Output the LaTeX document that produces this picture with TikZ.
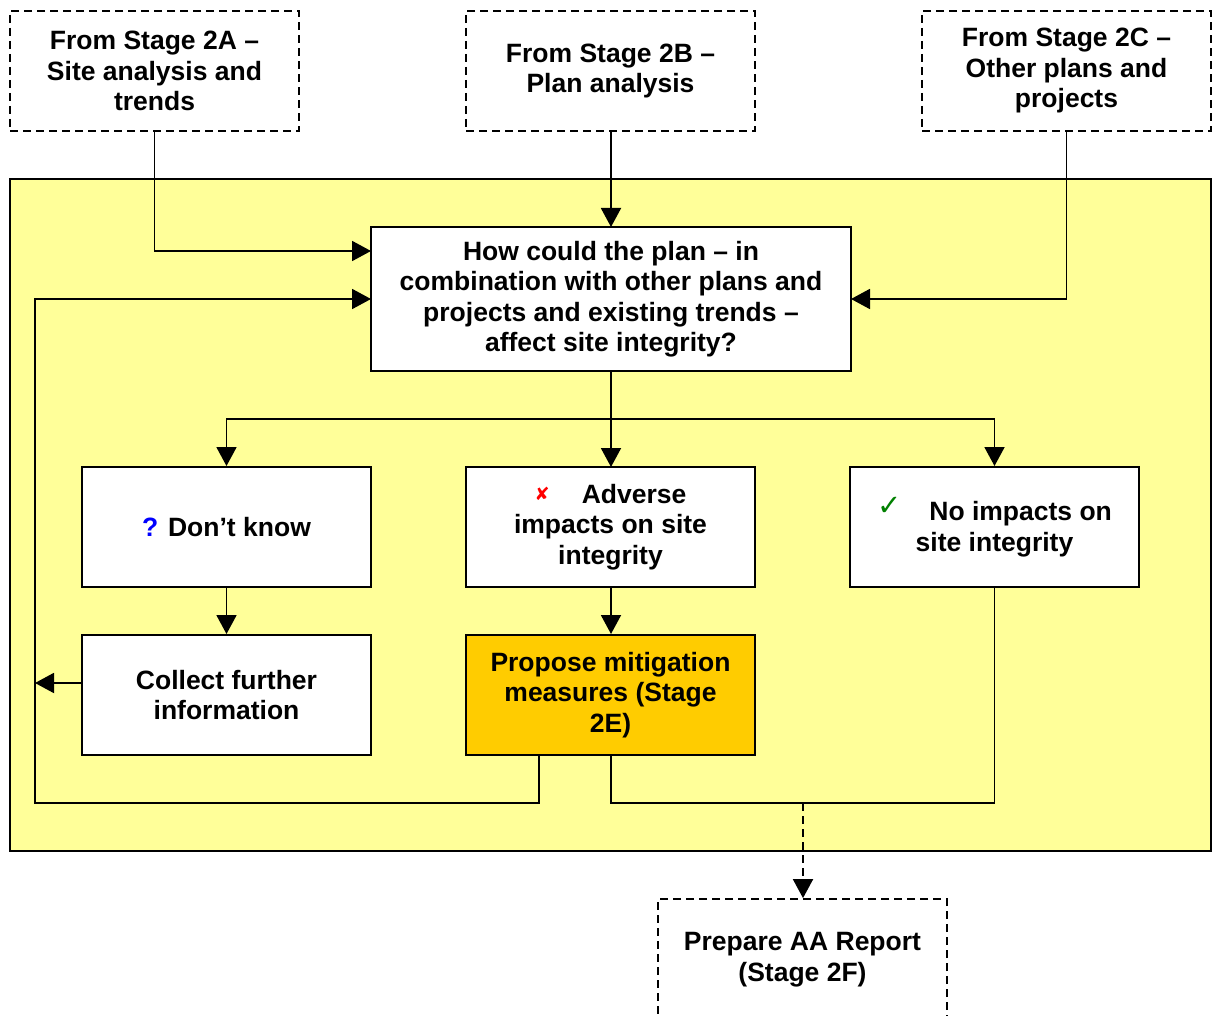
\documentclass[tikz,border=0pt]{standalone}
\usepackage{fontspec}
\setmainfont{Liberation Sans}
\newfontfamily\symfont{DejaVu Sans}
\usetikzlibrary{arrows.meta}

\definecolor{panelyellow}{HTML}{FFFF99}
\definecolor{stageorange}{HTML}{FFCC00}
\definecolor{qblue}{HTML}{0000FF}
\definecolor{okgreen}{HTML}{008000}
\definecolor{xred}{HTML}{FF0000}

\begin{document}
\begin{tikzpicture}[x=1pt,y=-1pt,
  every node/.style={font=\fontsize{26.5}{30.5}\selectfont\bfseries, align=center, inner sep=0pt},
  box/.style={draw, line width=2pt, fill=white, minimum width=289pt, minimum height=120pt},
  dbox/.style={box, line width=1.8pt, dash pattern=on 8pt off 5pt},
  link/.style={line width=1.9pt, -{Triangle[length=19pt,width=20pt]}},
  plain/.style={line width=1.9pt},
]
\useasboundingbox (0,0) rectangle (1213,1016);

% yellow assessment panel
\node[draw, line width=1.9pt, fill=panelyellow, minimum width=1201pt, minimum height=672pt] (panel) at (610.5,515) {};

% inputs from earlier stages
\node[dbox] (s2a) at (154.5,71) {From Stage 2A –\\Site analysis and\\trends};
\node[dbox] (s2b) at (610.5,71) {From Stage 2B –\\Plan analysis};
\node[dbox] (s2c) at (1066.5,71) {From Stage 2C –\\Other plans and\\projects};

% central question
\node[box, minimum width=480pt, minimum height=144pt] (q) at (611,299)
  {How could the plan – in\\combination with other plans and\\projects and existing trends –\\affect site integrity?};

% outcomes
\node[box] (dk) at (226.5,527) {{\color{qblue}?} Don’t know};
\node[box] (adv) at (610.5,527)
  {\raisebox{3pt}{\symfont\fontsize{18}{18}\selectfont\color{xred}✘}\hspace{32pt}Adverse\\impacts on site\\integrity};
\node[box] (noi) at (994.5,527)
  {\raisebox{5pt}{\symfont\fontsize{29}{29}\selectfont\mdseries\color{okgreen}✓}\hspace{28pt}No impacts on\\site integrity};

\node[box] (cf) at (226.5,695) {Collect further\\information};
\node[box, fill=stageorange] (pm) at (610.5,695) {Propose mitigation\\measures (Stage\\2E)};

% report stage
\node[dbox, minimum height=121pt] (aa) at (802.5,959.5) {Prepare AA Report\\(Stage 2F)};

% routing points
\coordinate (j1) at (611,419);
\coordinate (lb) at (35,803);
\coordinate (m) at (803,803);
\coordinate (ca) at (82,683);
\coordinate (qin) at (371,251);
\coordinate (qloop) at (371,299);
\coordinate (qright) at (851,299);
\coordinate (pmout) at (539,755);
\coordinate (adin) at (611,467);
\coordinate (top) at (611,227);

% connectors
\draw[link] (s2a.south) |- (qin);
\draw[link] (s2b.south -| top) -- (top);
\draw[link] (s2c.south) |- (qright);

\draw[plain] (q.south) -- (j1);
\draw[link] (j1) -| (dk.north);
\draw[link] (j1) -- (adin);
\draw[link] (j1) -| (noi.north);

\draw[link] (dk.south) -- (cf.north);
\draw[link] (adv.south -| adin) -- (pm.north -| adin);

\draw[link] (pmout) |- (lb) |- (qloop);
\draw[link] (ca) -- (ca -| lb);

\draw[plain] (pm.south -| adin) |- (m) -| (noi.south);
\draw[link, dash pattern=on 8pt off 5pt] (m) -- (aa.north -| m);
\end{tikzpicture}
\end{document}
